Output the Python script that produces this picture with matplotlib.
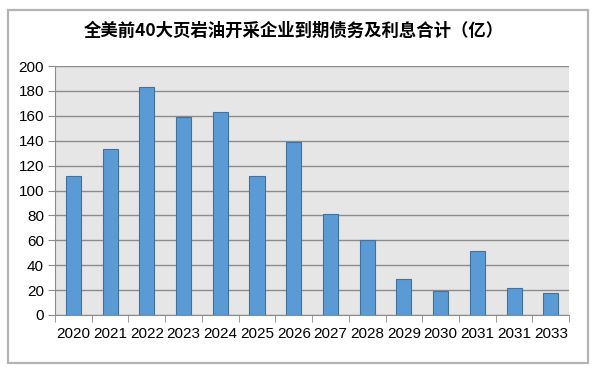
from matplotlib import pyplot as plt
from matplotlib.patches import Rectangle

plt.rcParams['font.family'] = ['Noto Sans CJK SC', 'DejaVu Sans']

years = ['2020', '2021', '2022', '2023', '2024', '2025', '2026',
         '2027', '2028', '2029', '2030', '2031', '2031', '2033']
debt = [112, 133, 183, 159, 163, 112, 139, 81, 60, 29, 19, 51, 22, 18]
title = '全美前40大页岩油开采企业到期债务及利息合计（亿）'

fig = plt.figure(figsize=(6, 3.71), dpi=100)
fig.patches.append(Rectangle((8 / 600, 8 / 371), 580 / 600, 353 / 371,
                             transform=fig.transFigure, fill=False,
                             edgecolor='#b4b4b4', linewidth=1.6))
ax = fig.add_axes([0.0917, 0.151, 0.857, 0.671])
ax.set_facecolor('#e6e6e6')

x = list(range(len(years)))
ax.bar(x, debt, width=0.41, color='#5b9bd5', edgecolor='#41719c',
       linewidth=0.8, zorder=3)

ax.set_xlim(-0.5, len(years) - 0.5)
ax.set_ylim(0, 200)
ax.set_yticks(range(0, 201, 20))
ax.yaxis.grid(True, color='#8c8c8c', linewidth=1, zorder=0)
ax.set_axisbelow(True)

# category labels centred, tick marks between categories
ax.set_xticks(x)
ax.set_xticklabels(years, fontfamily='Liberation Sans', fontsize=11)
ax.set_xticks([i - 0.5 for i in range(len(years) + 1)], minor=True)
ax.tick_params(axis='x', which='major', length=0, pad=9)
ax.tick_params(axis='x', which='minor', length=5, color='#8c8c8c',
               direction='out')
ax.tick_params(axis='y', length=5, color='#8c8c8c', pad=3)
for lab in ax.get_yticklabels():
    lab.set_fontfamily('Liberation Sans')
    lab.set_fontsize(11)

for side in ['top', 'right']:
    ax.spines[side].set_visible(False)
for side in ['left', 'bottom']:
    ax.spines[side].set_color('#8c8c8c')

fig.text(0.49, 0.918, title, ha='center', va='center', fontsize=12.5,
         fontweight='bold')

plt.savefig('out.png', dpi=100)
